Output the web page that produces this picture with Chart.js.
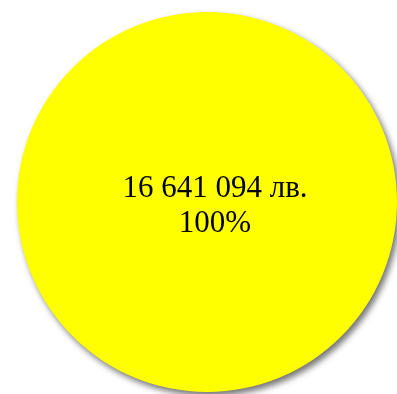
<!DOCTYPE html>
<html>
<head>
<meta charset="utf-8">
<script src="https://cdn.jsdelivr.net/npm/chart.js@4/dist/chart.umd.min.js"></script>
<style>
  html, body { margin: 0; padding: 0; background: #fff; }
  #wrap { width: 397px; height: 394px; }
</style>
</head>
<body>
<div id="wrap"><canvas id="pieChart"></canvas></div>
<script>
const labels = ["Общо"];
const values = [16641094];
const colors = ["#ffff00"];

const total = values.reduce((a, b) => a + b, 0);

function fmt(n) {
  return String(n).replace(/\B(?=(\d{3})+(?!\d))/g, " ") + " лв.";
}

// soft shadow behind the pie
const shadowPlugin = {
  id: "shadow",
  beforeDatasetsDraw(chart) {
    const ctx = chart.ctx;
    ctx.save();
    ctx.shadowColor = "rgba(0,0,0,0.55)";
    ctx.shadowBlur = 6;
    ctx.shadowOffsetX = 3;
    ctx.shadowOffsetY = 4;
  },
  afterDatasetsDraw(chart) {
    chart.ctx.restore();
  }
};

// value + percent label in the middle
const labelPlugin = {
  id: "sliceLabels",
  afterDraw(chart) {
    const ctx = chart.ctx;
    const meta = chart.getDatasetMeta(0);
    meta.data.forEach((arc, i) => {
      const x = arc.x + 8;
      const y = arc.y;
      const pct = Math.round(values[i] / total * 100) + "%";
      ctx.save();
      ctx.fillStyle = "#000";
      ctx.font = "31px 'Liberation Serif', 'Times New Roman', serif";
      ctx.textAlign = "center";
      ctx.textBaseline = "alphabetic";
      ctx.fillText(fmt(values[i]), x, y - 5);
      ctx.fillText(pct, x, y + 30);
      ctx.restore();
    });
  }
};

new Chart(document.getElementById("pieChart"), {
  type: "pie",
  data: {
    labels: labels,
    datasets: [{
      data: values,
      backgroundColor: colors,
      borderWidth: 0
    }]
  },
  options: {
    responsive: true,
    maintainAspectRatio: false,
    animation: false,
    layout: { padding: { left: 17, top: 12, right: 0, bottom: 2 } },
    plugins: {
      legend: { display: false },
      tooltip: { enabled: false }
    }
  },
  plugins: [shadowPlugin, labelPlugin]
});
</script>
</body>
</html>
